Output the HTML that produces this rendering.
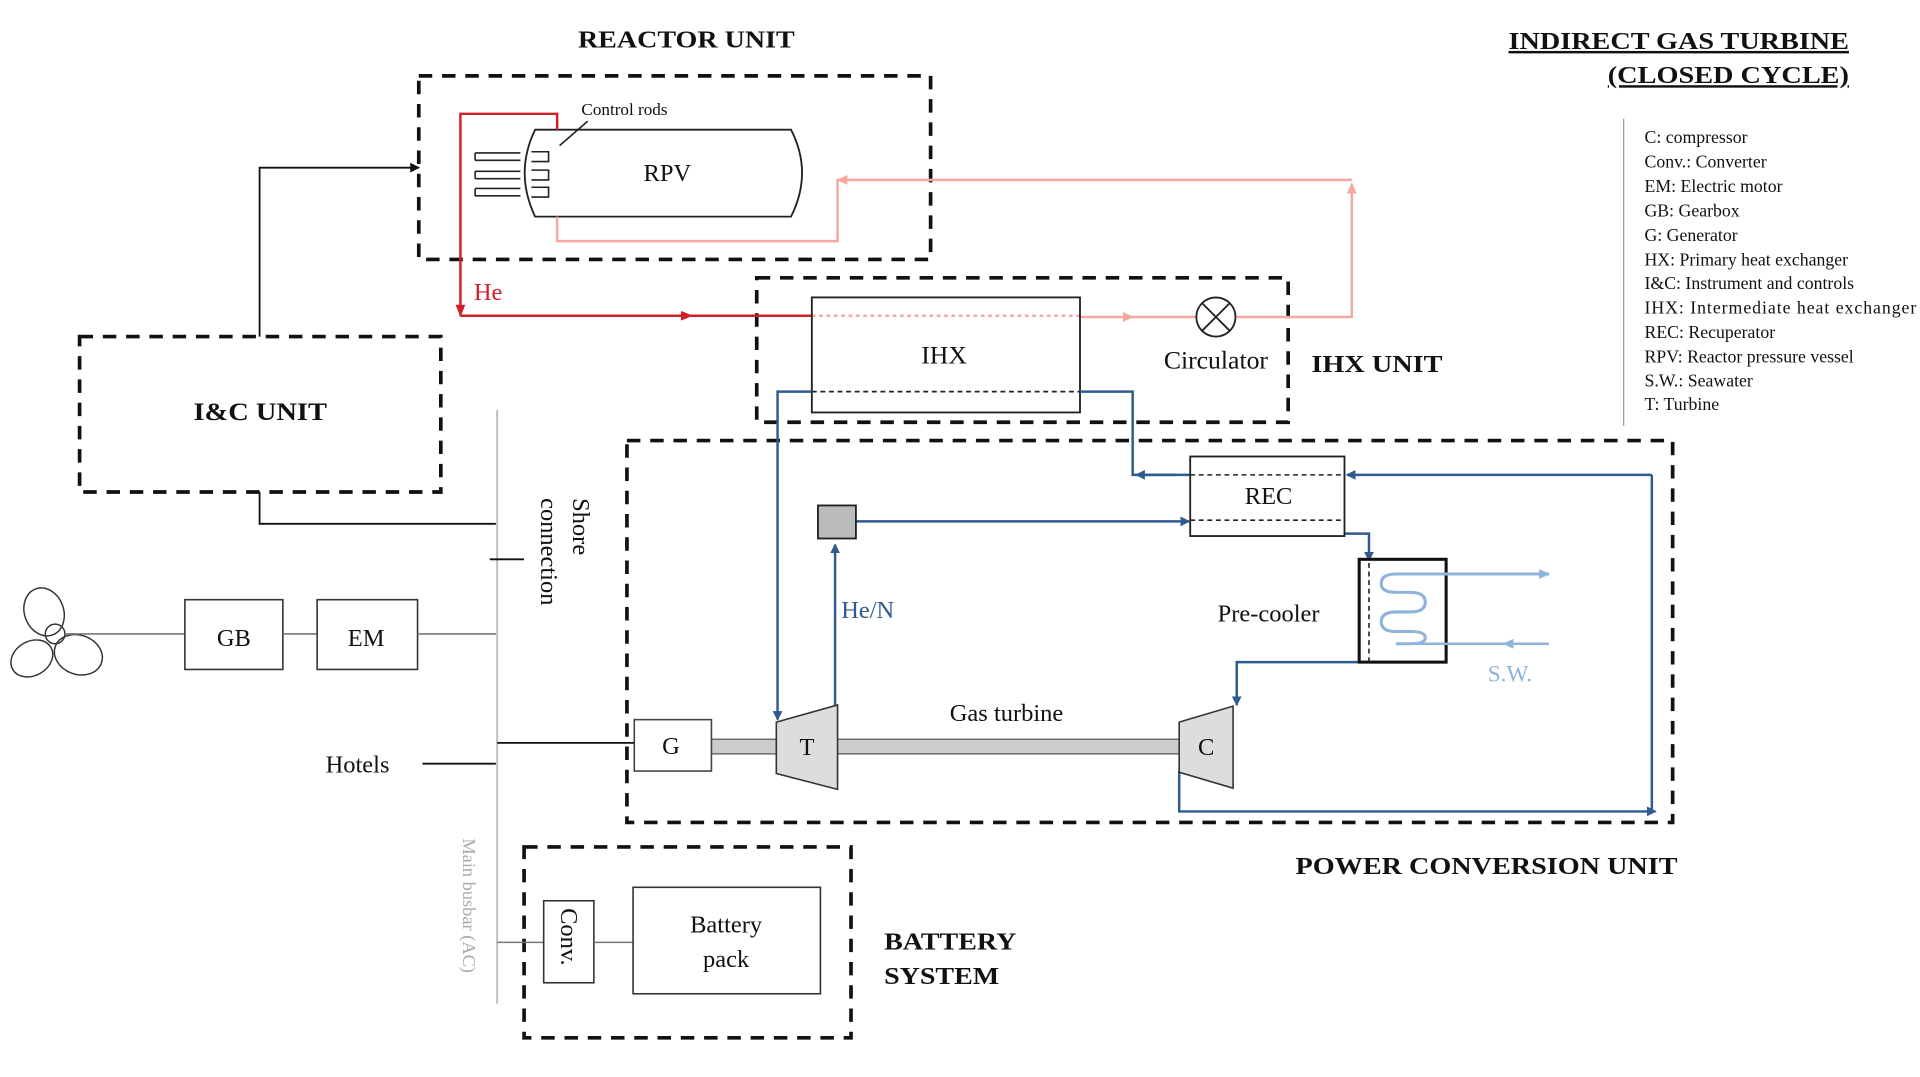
<!DOCTYPE html>
<html><head><meta charset="utf-8"><style>
html,body{margin:0;padding:0;background:#fff;}
svg{display:block;}
text{font-family:"Liberation Serif",serif;fill:#111;}
.b{font-weight:bold;}
</style></head><body>
<svg width="1920" height="1077" viewBox="0 0 1568 880" preserveAspectRatio="none" xmlns="http://www.w3.org/2000/svg">
<defs>
<marker id="ab" markerWidth="8" markerHeight="8" refX="7" refY="4" orient="auto" markerUnits="userSpaceOnUse"><path d="M0,0 L8,4 L0,8 z" fill="#2f5a8f"/></marker>
<marker id="ak" markerWidth="8" markerHeight="8" refX="7" refY="4" orient="auto" markerUnits="userSpaceOnUse"><path d="M0,0 L8,4 L0,8 z" fill="#111"/></marker>
<marker id="ar" markerWidth="10" markerHeight="8" refX="9" refY="4" orient="auto" markerUnits="userSpaceOnUse"><path d="M0,0 L10,4 L0,8 z" fill="#d0202a"/></marker>
<marker id="ap" markerWidth="9" markerHeight="8" refX="8" refY="4" orient="auto" markerUnits="userSpaceOnUse"><path d="M0,0 L9,4 L0,8 z" fill="#f4a8a0"/></marker>
<marker id="al" markerWidth="9" markerHeight="8" refX="8" refY="4" orient="auto" markerUnits="userSpaceOnUse"><path d="M0,0 L9,4 L0,8 z" fill="#8fb4d9"/></marker>
</defs>
<g fill="none" stroke="#111" stroke-width="3" stroke-dasharray="11 8">
<rect x="342" y="62" width="418" height="150"/>
<rect x="618" y="227" width="434" height="118"/>
<rect x="65" y="275" width="295" height="127"/>
<rect x="512" y="360" width="854" height="312"/>
<rect x="428" y="692" width="267" height="156"/>
</g>
<text x="472" y="39" font-size="20" class="b" textLength="177" lengthAdjust="spacingAndGlyphs">REACTOR UNIT</text>
<text x="1232" y="40" font-size="20" class="b" text-decoration="underline" textLength="278" lengthAdjust="spacingAndGlyphs">INDIRECT GAS TURBINE</text>
<text x="1313" y="68" font-size="20" class="b" text-decoration="underline" textLength="197" lengthAdjust="spacingAndGlyphs">(CLOSED CYCLE)</text>
<path d="M437,106 L646,106 Q664,141 646,177 L437,177 Q420,141 437,106 Z" fill="none" stroke="#222" stroke-width="1.5"/>
<text x="545" y="148" font-size="20" text-anchor="middle">RPV</text>
<g stroke="#222" stroke-width="1.3" fill="none">
<path d="M388,125 h37 M388,131 h37 M388,140 h37 M388,146 h37 M388,154 h37 M388,160 h37"/>
<path d="M388,125 v6 M388,140 v6 M388,154 v6"/>
<path d="M434,124 h14 v8 h-14 M434,139 h14 v8 h-14 M434,153 h14 v8 h-14"/>
<line x1="457" y1="119" x2="480" y2="99"/>
</g>
<text x="510" y="94" font-size="14" text-anchor="middle">Control rods</text>
<polyline points="455,106 455,93 376,93 376,258" fill="none" stroke="#d0202a" stroke-width="2" marker-end="url(#ar)"/>
<line x1="376" y1="258" x2="565" y2="258" stroke="#d0202a" stroke-width="2" marker-end="url(#ar)"/>
<line x1="560" y1="258" x2="663" y2="258" stroke="#d0202a" stroke-width="2"/>
<text x="387" y="245" font-size="20" style="fill:#d0202a">He</text>
<polyline points="455,177 455,197 684,197 684,147 1104,147" fill="none" stroke="#f4a8a0" stroke-width="2"/>
<line x1="700" y1="147" x2="684" y2="147" stroke="#f4a8a0" stroke-width="2" marker-end="url(#ap)"/>
<polyline points="1010,259 1104,259 1104,150" fill="none" stroke="#f4a8a0" stroke-width="2" marker-end="url(#ap)"/>
<line x1="882" y1="259" x2="925" y2="259" stroke="#f4a8a0" stroke-width="2" marker-end="url(#ap)"/>
<line x1="920" y1="259" x2="977" y2="259" stroke="#f4a8a0" stroke-width="2"/>
<line x1="663" y1="258" x2="882" y2="258" stroke="#f4a8a0" stroke-width="2" stroke-dasharray="3 3"/>
<rect x="663" y="243" width="219" height="94" fill="none" stroke="#222" stroke-width="1.5"/>
<text x="771" y="297" font-size="21" text-anchor="middle">IHX</text>
<line x1="663" y1="320" x2="882" y2="320" stroke="#222" stroke-width="1.5" stroke-dasharray="4 3"/>
<circle cx="993" cy="259" r="16" fill="#fff" stroke="#222" stroke-width="1.5"/>
<path d="M982,248 L1004,270 M1004,248 L982,270" stroke="#222" stroke-width="1.5"/>
<text x="993" y="301" font-size="21" text-anchor="middle">Circulator</text>
<text x="1071" y="304" font-size="20" class="b" textLength="107" lengthAdjust="spacingAndGlyphs">IHX UNIT</text>
<g fill="none" stroke="#2f5a8f" stroke-width="2">
<polyline points="972,388 925,388 925,320 882,320"/>
<line x1="960" y1="388" x2="928" y2="388" marker-end="url(#ab)"/>
<polyline points="663,320 635,320 635,588" marker-end="url(#ab)"/>
<polyline points="682,590 682,445" marker-end="url(#ab)"/>
<line x1="699" y1="426" x2="971" y2="426" marker-end="url(#ab)"/>
<polyline points="1349,388 1100,388" marker-end="url(#ab)"/>
<polyline points="1349,388 1349,663"/>
<polyline points="963,630 963,663 1352,663" marker-end="url(#ab)"/>
<polyline points="1098,436 1118,436 1118,458" marker-end="url(#ab)"/>
<polyline points="1118,541 1010,541 1010,576" marker-end="url(#ab)"/>
</g>
<rect x="668" y="413" width="31" height="27" fill="#bbb" stroke="#222" stroke-width="1.5"/>
<text x="687" y="505" font-size="20" style="fill:#2f5a8f">He/N</text>
<rect x="972" y="373" width="126" height="65" fill="#fff" stroke="#222" stroke-width="1.5"/>
<line x1="972" y1="388" x2="1098" y2="388" stroke="#222" stroke-width="1.3" stroke-dasharray="4 3"/>
<line x1="972" y1="425" x2="1098" y2="425" stroke="#222" stroke-width="1.3" stroke-dasharray="4 3"/>
<text x="1036" y="412" font-size="20" text-anchor="middle">REC</text>
<rect x="1110" y="457" width="71" height="84" fill="#fff" stroke="#111" stroke-width="2.5"/>
<line x1="1118" y1="460" x2="1118" y2="541" stroke="#222" stroke-width="1.3" stroke-dasharray="4 3"/>
<path d="M1265,469 L1140,469 Q1128,469 1128,477 Q1128,484 1140,484 L1152,484 Q1164,484 1164,492 Q1164,500 1152,500 L1140,500 Q1128,500 1128,508 Q1128,516 1140,516 L1152,516 Q1164,516 1164,521 Q1164,526 1152,526 L1140,526" fill="none" stroke="#8fb4d9" stroke-width="2.5"/>
<line x1="1180" y1="469" x2="1265" y2="469" stroke="#8fb4d9" stroke-width="2" marker-end="url(#al)"/>
<line x1="1265" y1="526" x2="1228" y2="526" stroke="#8fb4d9" stroke-width="2" marker-end="url(#al)"/>
<line x1="1140" y1="526" x2="1230" y2="526" stroke="#8fb4d9" stroke-width="2"/>
<text x="1215" y="557" font-size="19" style="fill:#8fb4d9">S.W.</text>
<text x="1036" y="508" font-size="20" text-anchor="middle">Pre-cooler</text>
<rect x="581" y="604" width="382" height="12" fill="#ccc" stroke="#555" stroke-width="1"/>
<path d="M634,590 L684,576 L684,645 L634,632 Z" fill="#ddd" stroke="#333" stroke-width="1.3"/>
<text x="659" y="617" font-size="20" text-anchor="middle">T</text>
<path d="M963,590 L1007,577 L1007,644 L963,631 Z" fill="#ddd" stroke="#333" stroke-width="1.3"/>
<text x="985" y="617" font-size="20" text-anchor="middle">C</text>
<text x="822" y="589" font-size="20" text-anchor="middle">Gas turbine</text>
<rect x="518" y="588" width="63" height="42" fill="#fff" stroke="#444" stroke-width="1.3"/>
<text x="548" y="616" font-size="20" text-anchor="middle">G</text>
<text x="1058" y="714" font-size="20" class="b" textLength="312" lengthAdjust="spacingAndGlyphs">POWER CONVERSION UNIT</text>
<text x="158" y="343" font-size="21" class="b" textLength="109" lengthAdjust="spacingAndGlyphs">I&amp;C UNIT</text>
<polyline points="212,275 212,137 342,137" fill="none" stroke="#111" stroke-width="1.5" marker-end="url(#ak)"/>
<polyline points="212,402 212,428 405,428" fill="none" stroke="#111" stroke-width="1.5"/>
<line x1="406" y1="335" x2="406" y2="820" stroke="#bbb" stroke-width="1.5"/>
<line x1="400" y1="457" x2="428" y2="457" stroke="#111" stroke-width="1.5"/>
<text transform="translate(468,407) rotate(90)" font-size="20">Shore</text>
<text transform="translate(442,407) rotate(90)" font-size="20">connection</text>
<text transform="translate(378,685) rotate(90)" font-size="15" style="fill:#aaa">Main busbar (AC)</text>
<g fill="none" stroke="#333" stroke-width="1.2">
<ellipse cx="36" cy="500" rx="16" ry="20" transform="rotate(-20 36 500)"/>
<ellipse cx="64" cy="535" rx="20" ry="16" transform="rotate(20 64 535)"/>
<ellipse cx="26" cy="538" rx="18" ry="14" transform="rotate(-30 26 538)"/>
<circle cx="45" cy="518" r="8"/>
</g>
<line x1="53" y1="518" x2="151" y2="518" stroke="#777" stroke-width="1.3"/>
<rect x="151" y="490" width="80" height="57" fill="#fff" stroke="#333" stroke-width="1.3"/>
<text x="191" y="528" font-size="20" text-anchor="middle">GB</text>
<line x1="231" y1="518" x2="259" y2="518" stroke="#777" stroke-width="1.3"/>
<rect x="259" y="490" width="82" height="57" fill="#fff" stroke="#333" stroke-width="1.3"/>
<text x="299" y="528" font-size="20" text-anchor="middle">EM</text>
<line x1="341" y1="518" x2="405" y2="518" stroke="#777" stroke-width="1.3"/>
<text x="292" y="631" font-size="20" text-anchor="middle">Hotels</text>
<line x1="345" y1="624" x2="405" y2="624" stroke="#111" stroke-width="1.5"/>
<line x1="406" y1="607" x2="518" y2="607" stroke="#111" stroke-width="1.5"/>
<line x1="406" y1="770" x2="444" y2="770" stroke="#777" stroke-width="1.3"/>
<rect x="444" y="736" width="41" height="67" fill="#fff" stroke="#333" stroke-width="1.3"/>
<text transform="translate(458,742) rotate(90)" font-size="20">Conv.</text>
<line x1="485" y1="770" x2="517" y2="770" stroke="#777" stroke-width="1.3"/>
<rect x="517" y="725" width="153" height="87" fill="#fff" stroke="#333" stroke-width="1.3"/>
<text x="593" y="762" font-size="20" text-anchor="middle">Battery</text>
<text x="593" y="790" font-size="20" text-anchor="middle">pack</text>
<text x="722" y="776" font-size="20" class="b" textLength="108" lengthAdjust="spacingAndGlyphs">BATTERY</text>
<text x="722" y="804" font-size="20" class="b" textLength="94" lengthAdjust="spacingAndGlyphs">SYSTEM</text>
<line x1="1326" y1="97" x2="1326" y2="348" stroke="#999" stroke-width="1"/>
<g font-size="14.5">
<text x="1343" y="117">C: compressor</text>
<text x="1343" y="137">Conv.: Converter</text>
<text x="1343" y="157">EM: Electric motor</text>
<text x="1343" y="177">GB: Gearbox</text>
<text x="1343" y="197">G: Generator</text>
<text x="1343" y="217">HX: Primary heat exchanger</text>
<text x="1343" y="236">I&amp;C: Instrument and controls</text>
<text x="1343" y="256" textLength="222" lengthAdjust="spacing">IHX: Intermediate heat exchanger</text>
<text x="1343" y="276">REC: Recuperator</text>
<text x="1343" y="296">RPV: Reactor pressure vessel</text>
<text x="1343" y="316">S.W.: Seawater</text>
<text x="1343" y="335">T: Turbine</text>
</g>
</svg>
</body></html>
